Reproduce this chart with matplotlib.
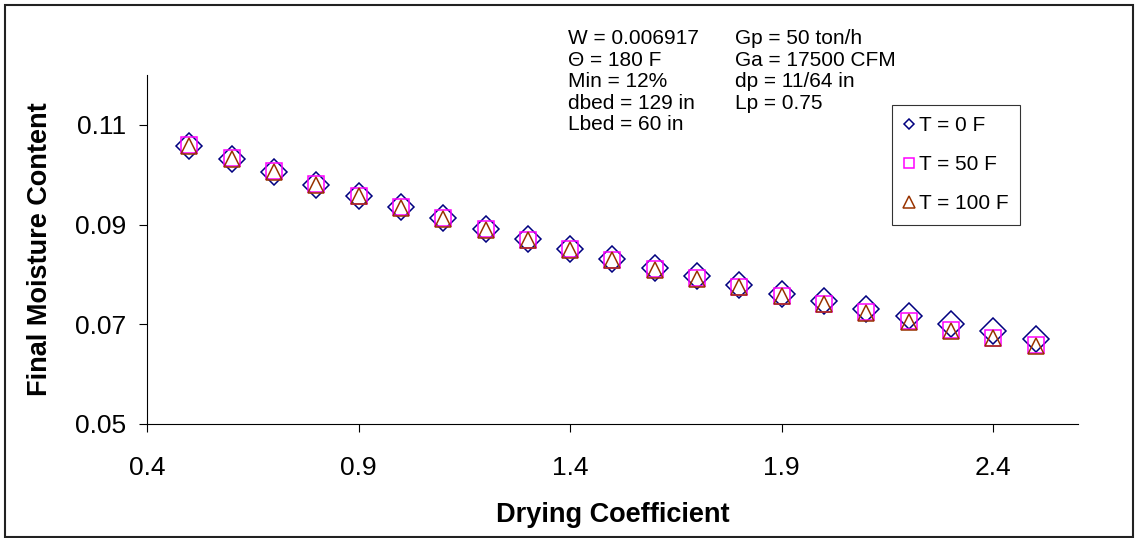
import matplotlib
matplotlib.use('Agg')
import matplotlib.pyplot as plt
from matplotlib.patches import Rectangle

plt.rcParams['font.family'] = ['Liberation Sans', 'DejaVu Sans']

# drying coefficient
drying_coef = [0.5, 0.6, 0.7, 0.8, 0.9, 1.0, 1.1, 1.2, 1.3, 1.4, 1.5,
               1.6, 1.7, 1.8, 1.9, 2.0, 2.1, 2.2, 2.3, 2.4, 2.5]

# final moisture content for each ambient temperature
m_t0 = [0.1058, 0.1032, 0.1006, 0.0980, 0.0957, 0.0935, 0.0913, 0.0891,
        0.0872, 0.0850, 0.0831, 0.0813, 0.0797, 0.0779, 0.0761, 0.0746,
        0.0731, 0.0716, 0.0701, 0.0686, 0.0671]
m_t50 = [0.1059, 0.1033, 0.1007, 0.0981, 0.0958, 0.0935, 0.0913, 0.0891,
         0.0870, 0.0850, 0.0829, 0.0810, 0.0792, 0.0775, 0.0757, 0.0741,
         0.0724, 0.0706, 0.0688, 0.0673, 0.0658]
m_t100 = [0.1058, 0.1032, 0.1006, 0.0980, 0.0957, 0.0934, 0.0912, 0.0890,
          0.0869, 0.0849, 0.0828, 0.0809, 0.0791, 0.0774, 0.0756, 0.0740,
          0.0723, 0.0705, 0.0687, 0.0672, 0.0657]

labels = ['T = 0 F', 'T = 50 F', 'T = 100 F']
x_ticks = [0.4, 0.9, 1.4, 1.9, 2.4]
y_ticks = [0.05, 0.07, 0.09, 0.11]

params_left = 'W = 0.006917\nΘ = 180 F\nMin = 12%\ndbed = 129 in\nLbed = 60 in'
params_right = 'Gp = 50 ton/h\nGa = 17500 CFM\ndp = 11/64 in\nLp = 0.75'

fig = plt.figure(figsize=(11.38, 5.38), dpi=100)
ax = fig.add_axes([0.1292, 0.2119, 0.818, 0.6487])

ax.plot(drying_coef, m_t0, linestyle='none', marker='D', ms=13,
        mfc='none', mec='#000080', mew=1.1, label=labels[0])
ax.plot(drying_coef, m_t50, linestyle='none', marker='s', ms=12,
        mfc='none', mec='#FF00FF', mew=1.1, label=labels[1])
ax.plot(drying_coef, m_t100, linestyle='none', marker='^', ms=11.5,
        mfc='none', mec='#993300', mew=1.1, label=labels[2])

ax.set_xlim(0.4, 2.6)
ax.set_ylim(0.05, 0.12)
ax.set_xticks(x_ticks)
ax.set_yticks(y_ticks)
ax.set_xticklabels([str(v) for v in x_ticks])
ax.set_yticklabels([str(v) for v in y_ticks])
ax.spines['top'].set_visible(False)
ax.spines['right'].set_visible(False)
ax.spines['left'].set_linewidth(0.8)
ax.spines['bottom'].set_linewidth(0.8)
ax.tick_params(axis='both', direction='out', length=6, width=0.8, labelsize=19)
ax.tick_params(axis='x', pad=17)
ax.tick_params(axis='y', pad=9)

ax.set_xlabel('Drying Coefficient', fontsize=19.5, fontweight='bold')
ax.xaxis.set_label_coords(0.5, -0.26)
ax.xaxis.label.set_va('center')
ax.set_ylabel('Final Moisture Content', fontsize=19.5, fontweight='bold')
ax.yaxis.set_label_coords(-0.115, 0.5)
ax.yaxis.label.set_va('center')

fig.text(568 / 1138, 1 - 29 / 538, params_left, fontsize=15, va='top',
         ha='left', linespacing=1.17)
fig.text(735 / 1138, 1 - 29 / 538, params_right, fontsize=15, va='top',
         ha='left', linespacing=1.17)

leg = ax.legend(loc='upper left', bbox_to_anchor=(892 / 1138, 1 - 105 / 538),
                bbox_transform=fig.transFigure, borderaxespad=0,
                fontsize=15, frameon=True, fancybox=False,
                handlelength=0.5, handletextpad=0.25, borderpad=0.55,
                labelspacing=0.95)
leg.get_frame().set_edgecolor('black')
leg.get_frame().set_linewidth(0.8)
for h, s in zip(leg.legend_handles, [5.5, 7.5, 8.0]):
    h.set_markersize(s)

fig.patches.append(Rectangle((5 / 1138, 0.002), 1128 / 1138, 1 - 5 / 538 - 0.002,
                             transform=fig.transFigure, fill=False,
                             edgecolor='#222222', linewidth=1.5))

fig.savefig('out.png', dpi=100)
